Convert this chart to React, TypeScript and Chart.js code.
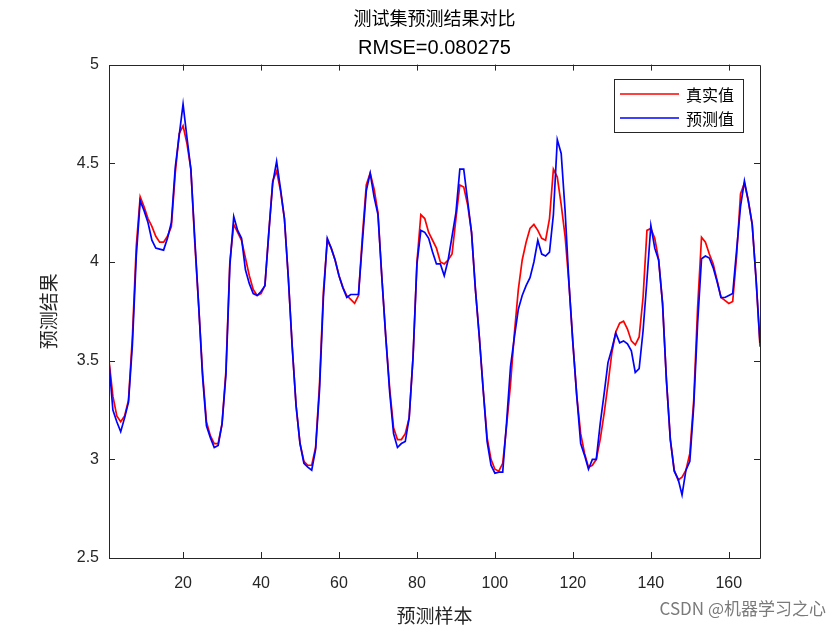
import React, { useEffect, useRef } from 'react';
import { Chart, registerables } from 'chart.js';

Chart.register(...registerables);

// ---------- data ----------
const chartTitle = '测试集预测结果对比';
const chartSubtitle = 'RMSE=0.080275';
const xAxisLabel = '预测样本';
const yAxisLabel = '预测结果';
const seriesNames = ['真实值', '预测值'];
const xTickValues = [20, 40, 60, 80, 100, 120, 140, 160];
const yTickValues = [2.5, 3, 3.5, 4, 4.5, 5];
const watermark = 'CSDN @机器学习之心';

const actualValues = [
  3.50, 3.32, 3.22, 3.19, 3.22, 3.30, 3.62, 4.08, 4.33, 4.28,
  4.22, 4.18, 4.13, 4.10, 4.10, 4.13, 4.18, 4.45, 4.65, 4.69,
  4.60, 4.47, 4.10, 3.78, 3.44, 3.19, 3.12, 3.08, 3.08, 3.18,
  3.45, 4.00, 4.19, 4.15, 4.11, 4.02, 3.93, 3.86, 3.83, 3.84,
  3.88, 4.15, 4.41, 4.46, 4.36, 4.22, 3.92, 3.57, 3.27, 3.08,
  2.99, 2.97, 2.97, 3.06, 3.38, 3.85, 4.11, 4.07, 4.01, 3.93,
  3.87, 3.83, 3.81, 3.79, 3.83, 4.13, 4.39, 4.45, 4.37, 4.25,
  3.92, 3.62, 3.36, 3.16, 3.10, 3.10, 3.13, 3.21, 3.52, 4.00,
  4.24, 4.22, 4.15, 4.11, 4.07, 4.00, 3.99, 4.01, 4.04, 4.22,
  4.39, 4.38, 4.29, 4.15, 3.86, 3.62, 3.35, 3.11, 3.00, 2.95,
  2.94, 2.98, 3.17, 3.38, 3.64, 3.86, 4.01, 4.10, 4.17, 4.19,
  4.16, 4.12, 4.11, 4.22, 4.47, 4.43, 4.29, 4.13, 3.89, 3.59,
  3.32, 3.13, 3.03, 2.96, 2.97, 3.00, 3.10, 3.23, 3.38, 3.54,
  3.645, 3.69, 3.70, 3.66, 3.60, 3.58, 3.62, 3.82, 4.16, 4.17,
  4.12, 4.01, 3.79, 3.40, 3.10, 2.945, 2.895, 2.91, 2.945, 3.03,
  3.30, 3.77, 4.125, 4.10, 4.04, 3.99, 3.906, 3.82, 3.805, 3.79,
  3.80, 4.03, 4.345, 4.40, 4.31, 4.19, 3.91, 3.57,
];

const predictedValues = [
  3.49, 3.25, 3.19, 3.14, 3.21, 3.29, 3.58, 4.03, 4.31, 4.26,
  4.20, 4.11, 4.07, 4.065, 4.06, 4.12, 4.20, 4.48, 4.64, 4.80,
  4.63, 4.47, 4.12, 3.78, 3.42, 3.17, 3.11, 3.06, 3.07, 3.18,
  3.43, 3.98, 4.23, 4.16, 4.12, 3.96, 3.89, 3.84, 3.83, 3.85,
  3.88, 4.15, 4.40, 4.51, 4.37, 4.22, 3.92, 3.57, 3.27, 3.08,
  2.98, 2.96, 2.945, 3.05, 3.35, 3.82, 4.12, 4.07, 4.01, 3.93,
  3.87, 3.82, 3.835, 3.835, 3.835, 4.10, 4.36, 4.45, 4.33, 4.24,
  3.92, 3.62, 3.34, 3.13, 3.06, 3.08, 3.09, 3.21, 3.52, 3.99,
  4.16, 4.15, 4.12, 4.05, 3.99, 3.99, 3.93, 4.01, 4.13, 4.25,
  4.47, 4.47, 4.31, 4.15, 3.86, 3.62, 3.35, 3.09, 2.97, 2.93,
  2.935, 2.935, 3.19, 3.47, 3.62, 3.76, 3.83, 3.88, 3.92, 4.00,
  4.11, 4.04, 4.03, 4.05, 4.24, 4.62, 4.55, 4.26, 3.89, 3.59,
  3.32, 3.08, 3.02, 2.95, 3.00, 3.00, 3.18, 3.33, 3.49, 3.56,
  3.64, 3.59, 3.60, 3.585, 3.55, 3.44, 3.46, 3.65, 3.91, 4.185,
  4.07, 4.01, 3.79, 3.40, 3.10, 2.94, 2.90, 2.82, 2.945, 2.99,
  3.27, 3.69, 4.016, 4.03, 4.02, 3.97, 3.90, 3.82, 3.82, 3.83,
  3.84, 4.06, 4.28, 4.41, 4.31, 4.19, 3.91, 3.59,
];

const sampleNumbers = actualValues.map((_, i) => i + 1);

// ---------- styles ----------
const AXIS_COLOR = '#262626';
const CJK = '"Noto Sans CJK SC", sans-serif';
const SANS = '"Liberation Sans", Arial, sans-serif';

const matlabAxesPlugin = {
  id: 'matlabAxes',
  afterDraw(chart: any) {
    const { ctx, chartArea: ca, scales } = chart;
    const xs = scales.x;
    const ys = scales.y;
    const tl = 6;
    ctx.save();
    ctx.strokeStyle = AXIS_COLOR;
    ctx.lineWidth = 1;
    ctx.beginPath();
    ctx.rect(Math.round(ca.left) + 0.5, Math.round(ca.top) + 0.5, Math.round(ca.right - ca.left), Math.round(ca.bottom - ca.top));
    for (const v of xTickValues) {
      const px = Math.round(xs.getPixelForValue(v)) + 0.5;
      ctx.moveTo(px, ca.bottom);
      ctx.lineTo(px, ca.bottom - tl);
      ctx.moveTo(px, ca.top);
      ctx.lineTo(px, ca.top + tl);
    }
    for (const v of yTickValues) {
      const py = Math.round(ys.getPixelForValue(v)) + 0.5;
      ctx.moveTo(ca.left, py);
      ctx.lineTo(ca.left + tl, py);
      ctx.moveTo(ca.right, py);
      ctx.lineTo(ca.right - tl, py);
    }
    ctx.stroke();

    // legend box
    const bw = 129;
    const bh = 53;
    const bx = Math.round(ca.right) - 146;
    const by = Math.round(ca.top) + 14;
    ctx.fillStyle = '#ffffff';
    ctx.fillRect(bx, by, bw, bh);
    ctx.strokeStyle = AXIS_COLOR;
    ctx.strokeRect(bx + 0.5, by + 0.5, bw, bh);
    const ds = chart.data.datasets;
    ds.forEach((d: any, k: number) => {
      const ly = by + 15 + k * 24;
      ctx.strokeStyle = d.borderColor;
      ctx.lineWidth = 1.6;
      ctx.beginPath();
      ctx.moveTo(bx + 6, ly);
      ctx.lineTo(bx + 65, ly);
      ctx.stroke();
      ctx.fillStyle = '#000';
      ctx.font = `16px ${CJK}`;
      ctx.textBaseline = 'middle';
      ctx.textAlign = 'left';
      ctx.fillText(d.label, bx + 72, ly + 1);
    });

    // watermark
    ctx.fillStyle = '#7a7a7a';
    ctx.font = `17px ${CJK}`;
    ctx.textAlign = 'right';
    ctx.textBaseline = 'middle';
    ctx.fillText(watermark, 826, 609);
    ctx.restore();
  },
};

export default function App() {
  const canvasRef = useRef<HTMLCanvasElement | null>(null);

  useEffect(() => {
    if (!canvasRef.current) return;
    const chart = new Chart(canvasRef.current, {
      type: 'line',
      data: {
        datasets: [
          {
            label: seriesNames[0],
            data: sampleNumbers.map((x, i) => ({ x, y: actualValues[i] })),
            borderColor: '#ff0000',
            backgroundColor: '#ff0000',
            borderWidth: 1.7,
            pointRadius: 0,
            tension: 0,
            order: 2,
          },
          {
            label: seriesNames[1],
            data: sampleNumbers.map((x, i) => ({ x, y: predictedValues[i] })),
            borderColor: '#0000ff',
            backgroundColor: '#0000ff',
            borderWidth: 1.7,
            pointRadius: 0,
            tension: 0,
            order: 1,
          },
        ],
      },
      options: {
        responsive: false,
        animation: false,
        devicePixelRatio: 1,
        layout: { padding: { left: 0, right: 80, top: 0, bottom: 0 } },
        plugins: {
          legend: { display: false },
          tooltip: { enabled: false },
          title: {
            display: true,
            text: chartTitle,
            fullSize: false,
            color: '#000',
            font: { family: CJK, size: 18, weight: 'normal' },
            padding: { top: 7, bottom: 0 },
          },
          subtitle: {
            display: true,
            text: chartSubtitle,
            fullSize: false,
            color: '#000',
            font: { family: SANS, size: 20, weight: 'normal' },
            padding: { top: 8, bottom: 4 },
          },
        },
        scales: {
          x: {
            type: 'linear',
            min: 1,
            max: sampleNumbers.length,
            afterBuildTicks: (scale: any) => {
              scale.ticks = xTickValues.map((v) => ({ value: v }));
            },
            afterFit: (scale: any) => {
              scale.height = 72;
            },
            grid: { display: false, drawTicks: false },
            border: { display: false },
            ticks: {
              color: AXIS_COLOR,
              font: { family: SANS, size: 16 },
              padding: 16,
              maxRotation: 0,
              autoSkip: false,
              callback: (v: any) => String(v),
            },
            title: {
              display: true,
              text: xAxisLabel,
              color: AXIS_COLOR,
              font: { family: CJK, size: 19 },
              padding: { top: 0, bottom: 3 },
            },
          },
          y: {
            type: 'linear',
            min: 2.5,
            max: 5,
            afterBuildTicks: (scale: any) => {
              scale.ticks = yTickValues.map((v) => ({ value: v }));
            },
            afterFit: (scale: any) => {
              scale.width = 109;
            },
            grid: { display: false, drawTicks: false },
            border: { display: false },
            ticks: {
              color: AXIS_COLOR,
              font: { family: SANS, size: 16 },
              padding: 10,
              callback: (v: any) => String(v),
            },
            title: {
              display: true,
              text: yAxisLabel,
              color: AXIS_COLOR,
              font: { family: CJK, size: 19 },
              padding: { top: 37, bottom: 0 },
            },
          },
        },
      },
      plugins: [matlabAxesPlugin],
    } as any);
    return () => chart.destroy();
  }, []);

  return (
    <div style={{ position: 'absolute', left: 0, top: 0, width: 840, height: 630, background: '#fff' }}>
      <canvas ref={canvasRef} width={840} height={630} />
    </div>
  );
}
